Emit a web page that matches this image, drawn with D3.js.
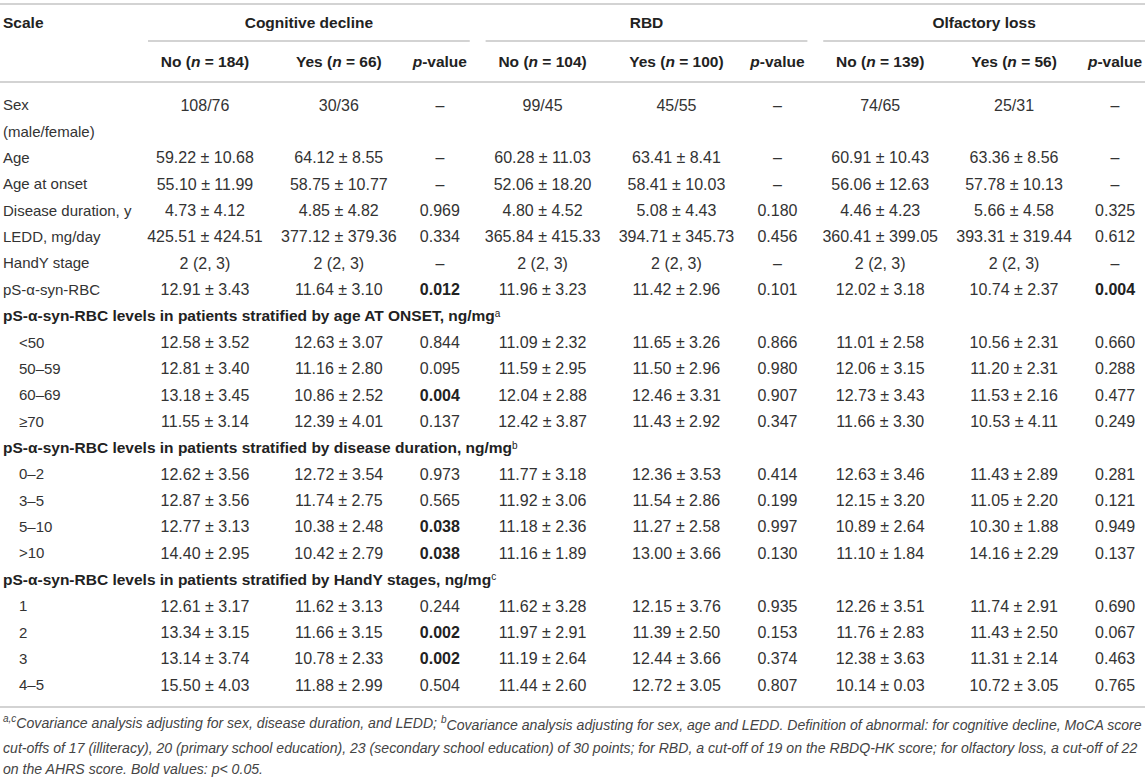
<!DOCTYPE html>
<html>
<head>
<meta charset="utf-8">
<script src="https://cdn.jsdelivr.net/npm/d3@7"></script>
<style>
body { margin: 0; background: #fff; }
svg { display: block; font-family: "Liberation Sans", Arial, sans-serif; }
</style>
</head>
<body>
<div id="table"></div>
<script>
// table content
var groups = ["Cognitive decline", "RBD", "Olfactory loss"]
var groupCounts = [[184, 66], [104, 100], [139, 56]]
var subColumns = ["no", "yes", "p"]

var rowLabels = ["Sex", "Age", "Age at onset", "Disease duration, y", "LEDD, mg/day", "HandY stage", "pS-α-syn-RBC",
    "<50", "50–59", "60–69", "≥70",
    "0–2", "3–5", "5–10", ">10",
    "1", "2", "3", "4–5"]

// section headers: inserted before the row with this index
var sectionStarts = [7, 11, 15]
var sectionTitles = ["pS-α-syn-RBC levels in patients stratified by age AT ONSET, ng/mg",
    "pS-α-syn-RBC levels in patients stratified by disease duration, ng/mg",
    "pS-α-syn-RBC levels in patients stratified by HandY stages, ng/mg"]
var sectionMarks = ["a", "b", "c"]

var cognitiveNo = ["108/76", "59.22 ± 10.68", "55.10 ± 11.99", "4.73 ± 4.12", "425.51 ± 424.51", "2 (2, 3)", "12.91 ± 3.43",
    "12.58 ± 3.52", "12.81 ± 3.40", "13.18 ± 3.45", "11.55 ± 3.14",
    "12.62 ± 3.56", "12.87 ± 3.56", "12.77 ± 3.13", "14.40 ± 2.95",
    "12.61 ± 3.17", "13.34 ± 3.15", "13.14 ± 3.74", "15.50 ± 4.03"]
var cognitiveYes = ["30/36", "64.12 ± 8.55", "58.75 ± 10.77", "4.85 ± 4.82", "377.12 ± 379.36", "2 (2, 3)", "11.64 ± 3.10",
    "12.63 ± 3.07", "11.16 ± 2.80", "10.86 ± 2.52", "12.39 ± 4.01",
    "12.72 ± 3.54", "11.74 ± 2.75", "10.38 ± 2.48", "10.42 ± 2.79",
    "11.62 ± 3.13", "11.66 ± 3.15", "10.78 ± 2.33", "11.88 ± 2.99"]
var cognitiveP = ["–", "–", "–", "0.969", "0.334", "–", "0.012",
    "0.844", "0.095", "0.004", "0.137",
    "0.973", "0.565", "0.038", "0.038",
    "0.244", "0.002", "0.002", "0.504"]

var rbdNo = ["99/45", "60.28 ± 11.03", "52.06 ± 18.20", "4.80 ± 4.52", "365.84 ± 415.33", "2 (2, 3)", "11.96 ± 3.23",
    "11.09 ± 2.32", "11.59 ± 2.95", "12.04 ± 2.88", "12.42 ± 3.87",
    "11.77 ± 3.18", "11.92 ± 3.06", "11.18 ± 2.36", "11.16 ± 1.89",
    "11.62 ± 3.28", "11.97 ± 2.91", "11.19 ± 2.64", "11.44 ± 2.60"]
var rbdYes = ["45/55", "63.41 ± 8.41", "58.41 ± 10.03", "5.08 ± 4.43", "394.71 ± 345.73", "2 (2, 3)", "11.42 ± 2.96",
    "11.65 ± 3.26", "11.50 ± 2.96", "12.46 ± 3.31", "11.43 ± 2.92",
    "12.36 ± 3.53", "11.54 ± 2.86", "11.27 ± 2.58", "13.00 ± 3.66",
    "12.15 ± 3.76", "11.39 ± 2.50", "12.44 ± 3.66", "12.72 ± 3.05"]
var rbdP = ["–", "–", "–", "0.180", "0.456", "–", "0.101",
    "0.866", "0.980", "0.907", "0.347",
    "0.414", "0.199", "0.997", "0.130",
    "0.935", "0.153", "0.374", "0.807"]

var olfactoryNo = ["74/65", "60.91 ± 10.43", "56.06 ± 12.63", "4.46 ± 4.23", "360.41 ± 399.05", "2 (2, 3)", "12.02 ± 3.18",
    "11.01 ± 2.58", "12.06 ± 3.15", "12.73 ± 3.43", "11.66 ± 3.30",
    "12.63 ± 3.46", "12.15 ± 3.20", "10.89 ± 2.64", "11.10 ± 1.84",
    "12.26 ± 3.51", "11.76 ± 2.83", "12.38 ± 3.63", "10.14 ± 0.03"]
var olfactoryYes = ["25/31", "63.36 ± 8.56", "57.78 ± 10.13", "5.66 ± 4.58", "393.31 ± 319.44", "2 (2, 3)", "10.74 ± 2.37",
    "10.56 ± 2.31", "11.20 ± 2.31", "11.53 ± 2.16", "10.53 ± 4.11",
    "11.43 ± 2.89", "11.05 ± 2.20", "10.30 ± 1.88", "14.16 ± 2.29",
    "11.74 ± 2.91", "11.43 ± 2.50", "11.31 ± 2.14", "10.72 ± 3.05"]
var olfactoryP = ["–", "–", "–", "0.325", "0.612", "–", "0.004",
    "0.660", "0.288", "0.477", "0.249",
    "0.281", "0.121", "0.949", "0.137",
    "0.690", "0.067", "0.463", "0.765"]

var columns = [
    [cognitiveNo, cognitiveYes, cognitiveP],
    [rbdNo, rbdYes, rbdP],
    [olfactoryNo, olfactoryYes, olfactoryP]
]

// svg dimensions
var width = 1145
var height = 778
var textColor = "#333"
var ruleColor = "#c4c4c4"

var svg = d3.select("#table").append("svg")
    .attr("width", width)
    .attr("height", height)

// lay out the body lines: section headers get their own line, Sex takes two
var lines = []
rowLabels.forEach(function (label, i) {
    let s = sectionStarts.indexOf(i)
    if (s >= 0)
        lines.push({type: "section", index: s})
    lines.push({type: "row", index: i, label: label})
    if (label == "Sex")
        lines.push({type: "extra", label: "(male/female)"})
})
lines.forEach(function (d, i) { d.line = i })

// scales
var y = d3.scalePoint()
    .domain(d3.range(lines.length))
    .range([105, 685])

var xg = d3.scaleBand()
    .domain(groups)
    .range([148, width])
    .paddingInner(0.047)

var xs = d3.scaleOrdinal()
    .domain(subColumns)
    .range([0.177, 0.593, 0.907])

function colX(g, k) { return xg(g) + xs(k) * xg.bandwidth() }

// rules
var rules = [4, 82, 707]
svg.selectAll(".rule")
    .data(rules)
    .enter().append("line")
    .attr("class", "rule")
    .attr("x1", 0).attr("x2", width)
    .attr("y1", function (d) { return d }).attr("y2", function (d) { return d })
    .attr("stroke", ruleColor)
    .attr("stroke-width", 1.6)

svg.selectAll(".grule")
    .data(groups)
    .enter().append("line")
    .attr("class", "grule")
    .attr("x1", function (d) { return xg(d) })
    .attr("x2", function (d) { return xg(d) + xg.bandwidth() })
    .attr("y1", 41).attr("y2", 41)
    .attr("stroke", ruleColor)
    .attr("stroke-width", 1.6)

// header
var head = svg.append("g")
    .style("font-size", "15.5px")
    .style("font-weight", "bold")
    .attr("fill", "#222")

head.append("text")
    .attr("x", 3).attr("y", 23).attr("dy", "0.35em")
    .text("Scale")

head.selectAll(".gtitle")
    .data(groups)
    .enter().append("text")
    .attr("class", "gtitle")
    .attr("x", function (d) { return xg(d) + xg.bandwidth() / 2 })
    .attr("y", 23).attr("dy", "0.35em")
    .attr("text-anchor", "middle")
    .text(function (d) { return d })

groups.forEach(function (g, gi) {
    subColumns.forEach(function (k, ki) {
        let t = head.append("text")
            .attr("x", colX(g, k)).attr("y", 62).attr("dy", "0.35em")
            .attr("text-anchor", "middle")
        if (k == "p") {
            t.append("tspan").style("font-style", "italic").text("p")
            t.append("tspan").text("-value")
        } else {
            t.append("tspan").text(k == "no" ? "No (" : "Yes (")
            t.append("tspan").style("font-style", "italic").text("n")
            t.append("tspan").text(" = " + groupCounts[gi][ki] + ")")
        }
    })
})

// body
var body = svg.append("g")
    .style("font-size", "15px")
    .attr("fill", textColor)

body.selectAll(".label")
    .data(lines)
    .enter().append("text")
    .attr("class", "label")
    .attr("x", function (d) { return d.type == "row" && d.index >= 7 ? 19 : 3 })
    .attr("y", function (d) { return y(d.line) })
    .attr("dy", "0.35em")
    .style("font-weight", function (d) { return d.type == "section" ? "bold" : null })
    .attr("fill", function (d) { return d.type == "section" ? "#222" : null })
    .each(function (d) {
        let t = d3.select(this)
        if (d.type == "section") {
            t.style("font-size", "15.5px")
            t.append("tspan").text(sectionTitles[d.index])
            t.append("tspan")
                .attr("dy", "-0.45em")
                .style("font-size", "10px")
                .style("font-weight", "normal")
                .text(sectionMarks[d.index])
        } else {
            t.text(d.label)
        }
    })

var cells = []
lines.filter(function (d) { return d.type == "row" }).forEach(function (d) {
    groups.forEach(function (g, gi) {
        subColumns.forEach(function (k, ki) {
            cells.push({line: d.line, g: g, k: k, value: columns[gi][ki][d.index]})
        })
    })
})

function isBold(d) {
    // bold values: p < 0.05
    return d.k == "p" && d.value != "–" && Number(d.value) < 0.05
}

body.selectAll(".cell")
    .data(cells)
    .enter().append("text")
    .attr("class", "cell")
    .attr("x", function (d) { return colX(d.g, d.k) })
    .attr("y", function (d) { return y(d.line) })
    .attr("dy", "0.35em")
    .attr("text-anchor", "middle")
    .style("font-size", "16px")
    .style("font-weight", function (d) { return isBold(d) ? "bold" : null })
    .attr("fill", function (d) { return isBold(d) ? "#222" : null })
    .text(function (d) { return d.value })

// footnote
var note = svg.append("g")
    .style("font-size", "14.1px")
    .style("font-style", "italic")
    .attr("fill", "#444")

var noteLines = [
    [["a,c", true], ["Covariance analysis adjusting for sex, disease duration, and LEDD; ", false], ["b", true],
     ["Covariance analysis adjusting for sex, age and LEDD. Definition of abnormal: for cognitive decline, MoCA score", false]],
    [["cut-offs of 17 (illiteracy), 20 (primary school education), 23 (secondary school education) of 30 points; for RBD, a cut-off of 19 on the RBDQ-HK score; for olfactory loss, a cut-off of 22", false]],
    [["on the AHRS score. Bold values: p< 0.05.", false]]
]
var noteY = [726, 748, 769]

noteLines.forEach(function (parts, i) {
    let t = note.append("text")
        .attr("x", 3).attr("y", noteY[i]).attr("dy", "0.35em")
    parts.forEach(function (p, j) {
        let s = t.append("tspan").text(p[0])
        if (p[1])
            s.attr("dy", "-0.45em").style("font-size", "10px")
        else if (j > 0 && parts[j - 1][1])
            s.attr("dy", "0.45em")
    })
})
</script>
</body>
</html>
